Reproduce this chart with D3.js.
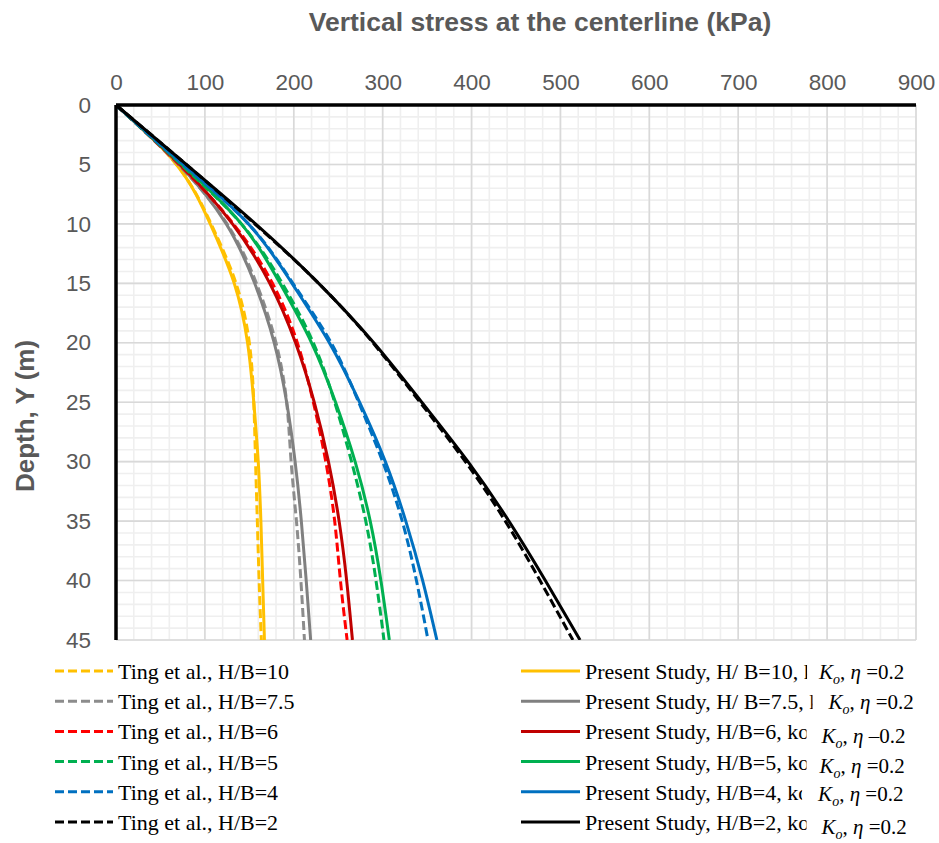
<!DOCTYPE html>
<html><head><meta charset="utf-8">
<script src="https://cdn.jsdelivr.net/npm/d3@7"></script>
<style>body{margin:0;background:#fff;}svg{display:block;} text{white-space:pre;}</style>
</head><body>
<svg id="chart" width="939" height="843"></svg>
<script>
// ---- data ----
const depths = [0, 5, 10, 15, 20, 25, 30, 35, 40, 45];
const hbRatios = ["10", "7.5", "6", "5", "4", "2"];
const presentHB10  = [0, 68, 106, 133, 148, 155, 160, 163, 165, 167];
const presentHB7_5 = [0, 71, 124, 156, 178, 192, 201.5, 208.5, 214, 219];
const presentHB6   = [0, 72, 131, 173, 202, 223, 239, 251, 259.5, 266];
const presentHB5   = [0, 74, 141, 184.5, 220, 247, 269, 286, 298, 307.5];
const presentHB4   = [0, 76, 149, 198, 240, 274, 303, 326, 345, 361];
const presentHB2   = [0, 79, 157, 228, 290, 344, 396, 442, 483, 522];
const tingHB10  = [0, 68, 107, 135, 150, 155, 157, 159, 161, 163.5];
const tingHB7_5 = [0, 70, 125, 158, 180, 192, 197, 203, 208, 212];
const tingHB6   = [0, 71, 132, 176, 204, 222, 236, 246, 252.5, 260];
const tingHB5   = [0, 73, 141, 187, 222, 246, 265, 281, 292.5, 301.5];
const tingHB4   = [0, 75, 149, 199, 242, 273, 300, 322, 338, 351];
const tingHB2   = [0, 79, 156, 228, 289, 342, 393, 438, 477, 514];
const xTicks = [0, 100, 200, 300, 400, 500, 600, 700, 800, 900];
const yTicks = [0, 5, 10, 15, 20, 25, 30, 35, 40, 45];
const xTitle = "Vertical stress at the centerline (kPa)";
const yTitle = "Depth, Y (m)";
const tingLabels = hbRatios.map(h => "Ting et al., H/B=" + h);
const presentLabels = ["Present Study, H/ B=10, ", "Present Study, H/ B=7.5, ", "Present Study, H/B=6, k",
  "Present Study, H/B=5, k", "Present Study, H/B=4, k", "Present Study, H/B=2, k"];
const presentPartial = ["k", "k", "o", "o", "o", "o"];
const etaSigns = ["=", "=", "–", "=", "=", "="];
const presentSeries = [presentHB10, presentHB7_5, presentHB6, presentHB5, presentHB4, presentHB2];
const tingSeries = [tingHB10, tingHB7_5, tingHB6, tingHB5, tingHB4, tingHB2];
const solidColors = ["#FFC000", "#808080", "#C00000", "#00B050", "#0070C0", "#000000"];
const dashColors  = ["#FFC000", "#8C8C8C", "#FF0000", "#00B050", "#0070C0", "#000000"];

// ---- layout ----
const svg = d3.select("#chart");
const L = 116, T = 105, W = 800, H = 535;
const x = d3.scaleLinear().domain([0, 900]).range([L, L + W]);
const y = d3.scaleLinear().domain([0, 45]).range([T, T + H]);
const sans = "Liberation Sans, Arial, sans-serif";
const serif = "Liberation Serif, Times New Roman, serif";

// grid
const g = svg.append("g");
g.selectAll(".vmin").data(d3.range(0, 901, 20)).join("line")
  .attr("x1", d => x(d)).attr("x2", d => x(d)).attr("y1", T).attr("y2", T + H)
  .attr("stroke", "#efefef").attr("stroke-width", 1.6);
g.selectAll(".hmin").data(d3.range(0, 46, 1)).join("line")
  .attr("y1", d => y(d)).attr("y2", d => y(d)).attr("x1", L).attr("x2", L + W)
  .attr("stroke", "#efefef").attr("stroke-width", 1.6);
g.selectAll(".vmaj").data(xTicks).join("line")
  .attr("x1", d => x(d)).attr("x2", d => x(d)).attr("y1", T).attr("y2", T + H)
  .attr("stroke", "#d9d9d9").attr("stroke-width", 1.6);
g.selectAll(".hmaj").data(yTicks).join("line")
  .attr("y1", d => y(d)).attr("y2", d => y(d)).attr("x1", L).attr("x2", L + W)
  .attr("stroke", "#d9d9d9").attr("stroke-width", 1.6);

// axes (top & left)
const xAxis = svg.append("g").attr("transform", `translate(0,${T})`)
  .call(d3.axisTop(x).tickValues(xTicks).tickSize(0).tickPadding(15));
const yAxis = svg.append("g").attr("transform", `translate(${L},0)`)
  .call(d3.axisLeft(y).tickValues(yTicks).tickSize(0).tickPadding(25));
[xAxis, yAxis].forEach(a => {
  a.select(".domain").remove();
  a.selectAll("text").attr("font-family", sans).attr("font-size", 22.5).attr("fill", "#595959");
});

// series
svg.append("clipPath").attr("id", "plotclip").append("rect")
  .attr("x", L - 2).attr("y", T - 2).attr("width", W + 4).attr("height", H + 2);
const line = d3.line().x(d => x(d.v)).y(d => y(d.d)).curve(d3.curveNatural);
const series = svg.append("g").attr("clip-path", "url(#plotclip)");
hbRatios.forEach((h, i) => {
  const td = depths.map((d, k) => ({d, v: tingSeries[i][k]}));
  const pd = depths.map((d, k) => ({d, v: presentSeries[i][k]}));
  series.append("path").attr("d", line(td)).attr("fill", "none")
    .attr("stroke", dashColors[i]).attr("stroke-width", 3).attr("stroke-dasharray", "9,4");
  series.append("path").attr("d", line(pd)).attr("fill", "none")
    .attr("stroke", solidColors[i]).attr("stroke-width", 3);
});

// axis lines
svg.append("line").attr("x1", L).attr("x2", L + W).attr("y1", T).attr("y2", T)
  .attr("stroke", "#000").attr("stroke-width", 3.5);
svg.append("line").attr("x1", L).attr("x2", L).attr("y1", T).attr("y2", T + H)
  .attr("stroke", "#000").attr("stroke-width", 3.5);

// titles
svg.append("text").attr("x", 540).attr("y", 31).attr("text-anchor", "middle")
  .attr("font-family", sans).attr("font-weight", "bold")
  .attr("font-size", 26.5).attr("fill", "#595959").text(xTitle);
svg.append("text").attr("transform", "translate(34,416) rotate(-90)").attr("text-anchor", "middle")
  .attr("font-family", sans).attr("font-weight", "bold")
  .attr("font-size", 26).attr("fill", "#595959").text(yTitle);

// legend
const rowY = i => 671 + i * 30.2;
const legL = svg.append("g");
tingLabels.forEach((t, i) => {
  legL.append("line").attr("x1", 55).attr("x2", 113).attr("y1", rowY(i)).attr("y2", rowY(i))
    .attr("stroke", dashColors[i]).attr("stroke-width", 3).attr("stroke-dasharray", "9,4");
  legL.append("text").attr("x", 118).attr("y", rowY(i) + 8).attr("font-family", serif)
    .attr("font-size", 22).attr("fill", "#000").text(t);
});
const visibleFrac = [0.3, 0.3, 0.75, 0.75, 0.35, 0.75];
const kGap = [12, 16, 15, 13, 16, 15];
const kDy = [0, 0, 4, 3, 1, 4];
const legR = svg.append("g");
presentLabels.forEach((t, i) => {
  const yy = rowY(i);
  legR.append("line").attr("x1", 521).attr("x2", 580).attr("y1", yy).attr("y2", yy)
    .attr("stroke", solidColors[i]).attr("stroke-width", 3);
  const txt = legR.append("text").attr("x", 585).attr("y", yy + 8).attr("font-family", serif)
    .attr("xml:space", "preserve")
    .attr("font-size", 22).attr("fill", "#000").text(t);
  const endX = 585 + txt.node().getComputedTextLength();
  const part = legR.append("text").attr("x", endX).attr("y", yy + 8).attr("font-family", serif)
    .attr("font-size", 22).attr("fill", "#000").text(presentPartial[i]);
  const pw = part.node().getComputedTextLength();
  const clipX = endX + visibleFrac[i] * pw;
  const cid = "lc" + i;
  svg.append("clipPath").attr("id", cid).append("rect")
    .attr("x", endX - 1).attr("y", yy - 20).attr("width", clipX - endX + 1).attr("height", 40);
  part.attr("clip-path", `url(#${cid})`);
  const k = legR.append("text").attr("x", clipX + kGap[i])
    .attr("y", yy + 8 + kDy[i]).attr("font-family", serif).attr("font-size", 21).attr("fill", "#000");
  k.append("tspan").attr("font-style", "italic").text("K");
  k.append("tspan").attr("font-style", "italic").attr("font-size", 14).attr("dy", 5).text("o");
  k.append("tspan").attr("dy", -5).text(", ");
  k.append("tspan").attr("font-style", "italic").text("η");
  k.append("tspan").text(" " + etaSigns[i] + "0.2");
});
</script>
</body></html>
